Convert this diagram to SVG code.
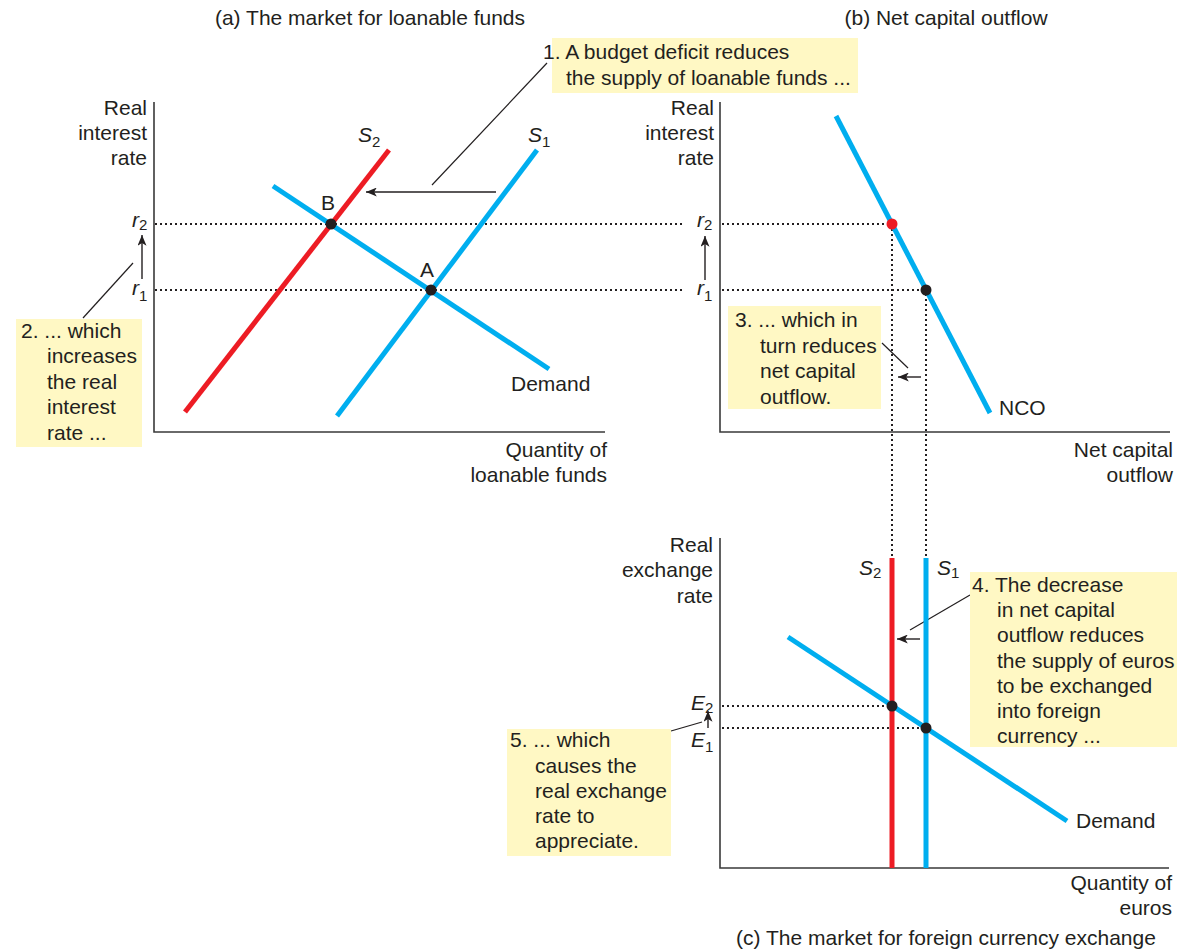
<svg xmlns="http://www.w3.org/2000/svg" width="1190" height="950" viewBox="0 0 1190 950">
<defs>
<marker id="ah" viewBox="0 0 12 10" refX="12" refY="5" markerWidth="11" markerHeight="9" orient="auto" markerUnits="userSpaceOnUse"><path d="M0,0 L12,5 L0,10 L3,5 z" fill="#231f20"/></marker>
</defs>
<style>
text{font-family:"Liberation Sans",Arial,sans-serif;font-size:21px;fill:#231f20}
.it{font-style:italic}
.sub{font-size:15px;font-style:normal}
.end{text-anchor:end}
.mid{text-anchor:middle}
.axis{stroke:#3a3a3a;stroke-width:1.6;fill:none}
.blue{stroke:#00aeef;stroke-width:5;fill:none}
.red{stroke:#ed1c24;stroke-width:5;fill:none}
.dot{stroke:#231f20;stroke-width:2;stroke-dasharray:2 3;fill:none}
.lead{stroke:#231f20;stroke-width:1.2;fill:none}
.arr{stroke:#231f20;stroke-width:1.4;fill:none;marker-end:url(#ah)}
.box{fill:#fff8c4}
</style>
<rect width="1190" height="950" fill="#ffffff"/>

<g id="titles">
<text x="370" y="25" class="mid">(a) The market for loanable funds</text>
<text x="946" y="25" class="mid">(b) Net capital outflow</text>
<text x="946" y="945" class="mid">(c) The market for foreign currency exchange</text>
</g>

<g id="connectors">
<!-- dotted guide lines -->
<line class="dot" x1="155" y1="224" x2="684" y2="224"/>
<line class="dot" x1="722" y1="224" x2="888" y2="224"/>
<line class="dot" x1="155" y1="290" x2="684" y2="290"/>
<line class="dot" x1="722" y1="290" x2="922" y2="290"/>
<line class="dot" x1="892" y1="229" x2="892" y2="556"/>
<line class="dot" x1="926" y1="294" x2="926" y2="556"/>
<line class="dot" x1="722" y1="706" x2="888" y2="706"/>
<line class="dot" x1="722" y1="728" x2="922" y2="728"/>
<!-- shift arrows -->
<line class="arr" x1="496" y1="192" x2="366" y2="192"/>
<line class="arr" x1="142" y1="279" x2="142" y2="235"/>
<line class="arr" x1="705" y1="280" x2="705" y2="236"/>
<line class="arr" x1="921" y1="377" x2="898" y2="377"/>
<line class="arr" x1="920" y1="639" x2="897" y2="639"/>
<line class="arr" x1="708" y1="728" x2="708" y2="711"/>
<!-- leader lines -->
<line class="lead" x1="432" y1="185" x2="547" y2="63"/>
<line class="lead" x1="83" y1="318" x2="133" y2="263"/>
<line class="lead" x1="882" y1="343" x2="908" y2="368"/>
<line class="lead" x1="970" y1="595" x2="910" y2="630"/>
<line class="lead" x1="671" y1="731" x2="702" y2="722"/>
</g>

<g id="panel-a">
<path class="axis" d="M154,102 V432 H605"/>
<text x="147" y="115" class="end">Real</text>
<text x="147" y="140" class="end">interest</text>
<text x="147" y="165" class="end">rate</text>
<text x="607" y="457" class="end">Quantity of</text>
<text x="607" y="482" class="end">loanable funds</text>
<text x="132" y="227" class="it">r<tspan class="sub" dy="3">2</tspan></text>
<text x="132" y="295" class="it">r<tspan class="sub" dy="6">1</tspan></text>
<line class="red" x1="185" y1="412" x2="389" y2="150"/>
<line class="blue" x1="337" y1="416" x2="537" y2="150"/>
<line class="blue" x1="273" y1="186" x2="549" y2="369"/>
<text x="358" y="142" class="it">S<tspan class="sub" dy="5">2</tspan></text>
<text x="528" y="142" class="it">S<tspan class="sub" dy="5">1</tspan></text>
<circle cx="331" cy="224" r="5.5" fill="#231f20"/>
<circle cx="431" cy="290" r="5.5" fill="#231f20"/>
<text x="328" y="210" class="mid">B</text>
<text x="427" y="277" class="mid">A</text>
<text x="511" y="391">Demand</text>
</g>

<g id="panel-b">
<path class="axis" d="M720,102 V432 H1170"/>
<text x="714" y="115" class="end">Real</text>
<text x="714" y="140" class="end">interest</text>
<text x="714" y="165" class="end">rate</text>
<text x="1173" y="457" class="end">Net capital</text>
<text x="1173" y="482" class="end">outflow</text>
<text x="697" y="227" class="it">r<tspan class="sub" dy="3">2</tspan></text>
<text x="697" y="295" class="it">r<tspan class="sub" dy="6">1</tspan></text>
<line class="blue" x1="836" y1="116" x2="990" y2="413"/>
<circle cx="892" cy="224" r="5.5" fill="#ed1c24"/>
<circle cx="926" cy="290" r="5.5" fill="#231f20"/>
<text x="999" y="415">NCO</text>
</g>

<g id="panel-c">
<path class="axis" d="M720,538 V868 H1169"/>
<text x="713" y="552" class="end">Real</text>
<text x="713" y="577" class="end">exchange</text>
<text x="713" y="603" class="end">rate</text>
<text x="1172" y="890" class="end">Quantity of</text>
<text x="1172" y="915" class="end">euros</text>
<text x="691" y="710" class="it">E<tspan class="sub" dy="3">2</tspan></text>
<text x="691" y="747" class="it">E<tspan class="sub" dy="5">1</tspan></text>
<line class="red" x1="892" y1="558" x2="892" y2="868"/>
<line class="blue" x1="926" y1="558" x2="926" y2="868"/>
<line class="blue" x1="788" y1="637" x2="1067" y2="821"/>
<text x="859" y="575" class="it">S<tspan class="sub" dy="3">2</tspan></text>
<text x="937" y="575" class="it">S<tspan class="sub" dy="3">1</tspan></text>
<circle cx="892" cy="706" r="5.5" fill="#231f20"/>
<circle cx="926" cy="728" r="5.5" fill="#231f20"/>
<text x="1076" y="828">Demand</text>
</g>

<g id="callout-1">
<rect class="box" x="552" y="38" width="306" height="55"/>
<text x="543" y="59">1. A budget deficit reduces</text>
<text x="566" y="85">the supply of loanable funds ...</text>
</g>

<g id="callout-2">
<rect class="box" x="16" y="319" width="126" height="128"/>
<text x="21" y="338">2. ... which</text>
<text x="47" y="363">increases</text>
<text x="47" y="389">the real</text>
<text x="47" y="414">interest</text>
<text x="47" y="440">rate ...</text>
</g>

<g id="callout-3">
<rect class="box" x="728" y="306" width="153" height="103"/>
<text x="735" y="327">3. ... which in</text>
<text x="760" y="353">turn reduces</text>
<text x="760" y="378">net capital</text>
<text x="760" y="404">outflow.</text>
</g>

<g id="callout-4">
<rect class="box" x="970" y="572" width="207" height="175"/>
<text x="972" y="592">4. The decrease</text>
<text x="997" y="617">in net capital</text>
<text x="997" y="642">outflow reduces</text>
<text x="997" y="668">the supply of euros</text>
<text x="997" y="693">to be exchanged</text>
<text x="997" y="718">into foreign</text>
<text x="997" y="743">currency ...</text>
</g>

<g id="callout-5">
<rect class="box" x="507" y="729" width="164" height="127"/>
<text x="510" y="747">5. ... which</text>
<text x="535" y="773">causes the</text>
<text x="535" y="798">real exchange</text>
<text x="535" y="823">rate to</text>
<text x="535" y="848">appreciate.</text>
</g>
</svg>
